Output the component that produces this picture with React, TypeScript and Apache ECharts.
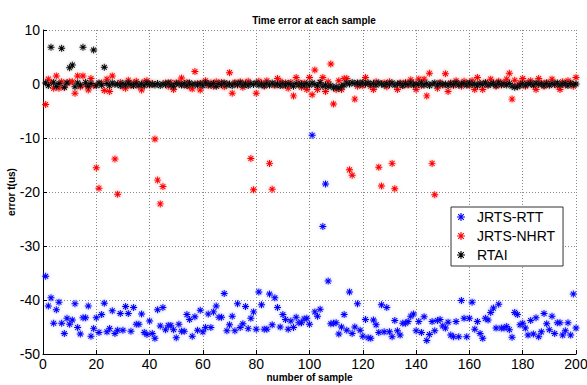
import React, { useEffect, useRef } from "react";
import * as echarts from "echarts";

const titleText = "Time error at each sample";
const xName = "number of sample";
const yName = "error t(us)";
const seriesNames = ["JRTS-RTT", "JRTS-NHRT", "RTAI"];
const seriesColors = ["#0000ff", "#ff0000", "#000000"];
const haloColors = ["rgba(60,60,255,0.55)", "rgba(255,60,60,0.55)", "rgba(80,80,80,0.45)"];

const rtt = [
  -35.6, -41.1, -39.6, -44.3, -41.8, -40.4, -44.3, -46.2, -43.4, -44.5,
  -43.7, -40.7, -45.1, -46.3, -43.3, -43.3, -41.1, -46.7, -45.3, -43.3,
  -46.0, -42.7, -40.6, -45.9, -45.3, -42.0, -46.2, -45.6, -42.5, -45.6,
  -41.2, -42.5, -45.8, -41.4, -44.5, -44.5, -42.6, -46.0, -46.4, -43.9,
  -46.2, -47.1, -41.8, -44.8, -41.4, -45.5, -44.7, -44.7, -45.5, -47.0,
  -44.5, -45.8, -45.8, -42.7, -43.6, -46.7, -43.1, -45.6, -41.9, -45.9,
  -45.1, -42.6, -45.1, -42.2, -41.1, -43.2, -43.2, -38.8, -45.7, -44.6,
  -43.0, -45.7, -40.7, -45.1, -44.4, -41.2, -45.3, -43.4, -42.2, -45.4,
  -38.5, -40.9, -45.4, -45.4, -38.9, -44.6, -39.6, -41.4, -45.0, -42.7,
  -43.6, -45.4, -43.9, -45.1, -43.2, -44.2, -44.2, -43.5, -43.4, -44.5,
  -9.5, -42.2, -43.0, -41.7, -26.4, -18.5, -36.5, -44.4, -44.3, -44.2,
  -46.3, -45.0, -42.7, -45.6, -38.5, -46.2, -45.0, -40.7, -45.6, -46.7,
  -43.6, -47.0, -47.1, -43.7, -44.6, -46.0, -40.9, -45.9, -41.4, -45.9,
  -46.8, -43.8, -45.7, -46.5, -44.3, -44.3, -44.0, -43.0, -42.6, -45.7,
  -44.0, -46.0, -43.1, -47.5, -46.4, -44.0, -45.7, -43.8, -43.6, -44.8,
  -45.2, -44.1, -46.5, -46.8, -44.0, -46.8, -40.1, -43.4, -46.8, -43.4,
  -40.4, -45.4, -44.0, -46.2, -47.1, -43.4, -43.7, -42.3, -41.5, -45.2,
  -40.8, -45.2, -45.2, -44.9, -45.5, -46.9, -42.3, -42.7, -44.6, -44.3,
  -45.2, -46.5, -43.8, -46.3, -43.3, -46.8, -45.9, -42.5, -44.4, -45.5,
  -43.0, -46.2, -44.2, -44.2, -46.5, -45.7, -44.2, -46.5, -38.9, -45.2,
];

const nhrt = [
  -3.8, 0.9, 0.3, -0.8, 1.5, -0.8, 0.4, -0.6, 0.2, 0.4,
  0.4, -1.7, 1.5, -0.5, 1.5, -0.2, -1.1, 1.0, -0.3, -15.5,
  -19.3, 0.2, -1.2, 0.9, -1.4, 1.5, -13.9, -20.4, 0.3, -0.5,
  -0.8, 0.7, -0.3, 0.2, 0.5, -0.4, -1.1, 0.4, 0.6, -0.2,
  0.1, -10.2, -17.8, -22.2, -19.0, 0.2, -0.4, 0.3, -1.0, 0.2,
  0.3, 1.1, -0.2, 0.3, -0.5, -0.9, 2.3, 0.1, -1.1, 0.2,
  0.6, -0.3, 0.2, -0.4, 0.4, -0.2, 0.3, -0.5, 0.1, 2.1,
  -1.7, 0.3, -0.2, 0.4, -0.6, 0.2, 0.5, -13.8, -19.6, -1.7,
  0.5, 0.2, -0.4, 0.6, -14.7, -19.5, -0.3, 1.0, 0.5, -0.3,
  0.2, -0.8, 0.3, -2.2, 1.2, 0.3, -0.6, 0.2, -1.0, 1.2,
  -2.0, 2.6, -1.0, 0.3, 1.2, -1.4, 0.4, 3.7, -3.7, -1.0,
  0.6, -1.0, 1.0, 1.0, -15.9, -16.9, -2.8, -0.4, 0.2, -0.3,
  1.2, 0.1, -0.4, -1.0, 0.4, -15.4, -18.9, 0.2, -0.5, 0.4,
  -14.7, -19.4, -1.0, 0.2, -0.3, 0.3, -0.2, 0.8, 0.1, -1.0,
  0.9, -0.3, 0.9, -2.2, 2.0, -14.7, -20.5, -0.8, 0.3, -0.2,
  1.9, -1.4, 0.2, -0.3, 0.6, 0.1, -0.4, 0.5, 0.2, -0.3,
  0.6, -1.0, 1.2, 0.1, -1.0, 0.3, -0.2, 0.9, 0.2, -0.4,
  0.5, -0.2, 0.3, 0.9, 2.0, -2.8, 0.7, -0.3, 0.2, 1.0,
  -0.4, 0.3, 0.6, -0.2, -1.0, 1.0, 0.2, -0.4, 0.3, -0.2,
  0.9, 0.1, -0.3, -1.0, 0.4, -0.2, 0.6, 0.2, -0.4, 1.2,
];

const rtai = [
  0.2, -0.3, 6.8, 0.3, -0.4, 0.1, 6.6, -0.6, 0.2, 3.0,
  3.5, -0.5, 0.2, -0.2, 6.8, 0.3, -0.4, 0.1, 6.3, -0.3,
  0.2, -0.2, 3.1, 0.1, -0.3, 0.2, -0.1, 0.0, -0.3, 0.1,
  -0.2, 0.2, -0.1, -0.3, 0.1, -0.2, 0.0, -0.3, 0.2, -0.1,
  0.0, -0.2, 0.1, -0.3, 0.0, -0.1, 0.2, -0.2, -0.4, 0.1,
  0.0, -0.2, 0.1, -0.3, 0.2, -0.1, 0.0, -0.2, 0.1, -0.3,
  0.2, 0.0, -0.2, 0.1, -0.4, 0.1, -0.1, 0.2, -0.2, 0.0,
  -0.3, 0.1, -0.1, 0.2, -0.2, 0.0, -0.3, 0.1, -0.1, 0.2,
  -0.2, 0.0, -0.3, 0.1, -0.2, 0.2, -0.1, 0.0, -0.3, 0.1,
  -0.2, 0.1, -0.1, -0.4, 0.1, -0.2, 0.0, -0.3, 0.1, -0.2,
  0.2, -0.1, -0.3, 0.3, -0.4, -0.2, -0.5, -0.3, -0.7, -0.5,
  -0.8, -0.4, -0.2, 0.2, 0.0, 0.3, 0.1, 0.2, -0.1, 0.3,
  0.0, 0.2, -0.1, 0.1, -0.2, 0.2, 0.0, -0.2, 0.1, -0.1,
  0.2, -0.2, 0.0, 0.1, -0.3, 0.1, -0.1, 0.2, -0.2, 0.0,
  -0.1, 0.2, -0.2, 0.1, -0.3, 0.0, 0.2, -0.2, 0.1, -0.1,
  0.0, -0.3, 0.1, -0.1, 0.2, -0.2, 0.0, 0.1, -0.2, 0.2,
  -0.1, 0.0, -0.3, 0.1, -0.1, 0.2, -0.2, 0.0, 0.1, -0.3,
  0.2, -0.1, 0.0, -0.2, 0.1, -0.4, -0.6, -0.5, -0.3, 0.1,
  -0.2, 0.0, 0.1, -0.2, 0.2, -0.1, 0.0, -0.3, 0.1, -0.2,
  0.1, -0.1, 0.2, -0.2, 0.0, 0.1, -0.3, 0.1, -0.1, 0.0,
];

const xTicks = { min: 0, max: 200, interval: 20 };
const yTicks = { min: -50, max: 10, interval: 10 };

const STAR =
  "path://M0 8.6H20V11.4H0Z M8.6 0H11.4V20H8.6Z M4 2L18 16L16 18L2 4Z M16 2L18 4L4 18L2 16Z";

const FONT = "'Liberation Sans', Arial, Helvetica, sans-serif";

export default function App() {
  const ref = useRef<HTMLDivElement>(null);
  useEffect(() => {
    if (!ref.current) return;
    const chart = echarts.init(ref.current, undefined, { renderer: "svg" });
    const allSeries = [rtt, nhrt, rtai].map((vals, k) => ({
      name: seriesNames[k],
      type: "scatter",
      symbol: STAR,
      symbolSize: 7,
      data: vals.map((v, i) => [i + 1, v]),
      itemStyle: {
        color: seriesColors[k],
        opacity: 1,
        shadowBlur: 3,
        shadowColor: haloColors[k],
      },
      emphasis: { disabled: true },
      z: 2 + k,
    }));
    chart.setOption({
      animation: false,
      backgroundColor: "#ffffff",
      textStyle: { fontFamily: FONT },
      title: {
        text: titleText,
        left: 309,
        textAlign: "center",
        top: 10,
        textStyle: { fontSize: 10, fontWeight: "bold", color: "#000", fontFamily: FONT },
      },
      grid: {
        left: 43,
        right: 11,
        top: 30,
        bottom: 31,
        containLabel: false,
        outerBoundsMode: "none",
      },
      legend: {
        orient: "vertical",
        left: 451,
        top: 207,
        padding: [3, 8, 4, 6],
        itemGap: 5,
        itemWidth: 22,
        itemHeight: 8,
        backgroundColor: "#ffffff",
        borderColor: "#333",
        borderWidth: 1,
        textStyle: { fontSize: 14, color: "#000", fontFamily: FONT },
        data: seriesNames,
      },
      xAxis: {
        type: "value",
        min: xTicks.min,
        max: xTicks.max,
        interval: xTicks.interval,
        name: xName,
        nameLocation: "middle",
        nameGap: 18,
        nameMoveOverlap: false,
        nameTextStyle: { fontSize: 10, fontWeight: "bold", color: "#000", fontFamily: FONT },
        axisLine: { show: true, onZero: false, lineStyle: { color: "#000", width: 1 } },
        axisTick: { show: true, inside: true, length: 4, lineStyle: { color: "#000" } },
        axisLabel: { fontSize: 14, color: "#000", margin: 3, fontFamily: FONT },
        splitLine: { show: true, lineStyle: { color: "#888", type: [1, 2], width: 1 } },
      },
      yAxis: {
        type: "value",
        min: yTicks.min,
        max: yTicks.max,
        interval: yTicks.interval,
        name: yName,
        nameLocation: "middle",
        nameGap: 27,
        nameMoveOverlap: false,
        nameTextStyle: { fontSize: 10, fontWeight: "bold", color: "#000", fontFamily: FONT },
        axisLine: { show: true, onZero: false, lineStyle: { color: "#000", width: 1 } },
        axisTick: { show: true, inside: true, length: 4, lineStyle: { color: "#000" } },
        axisLabel: { fontSize: 14, color: "#000", margin: 3, fontFamily: FONT },
        splitLine: { show: true, lineStyle: { color: "#888", type: [1, 2], width: 1 } },
      },
      series: allSeries,
    });
    return () => chart.dispose();
  }, []);
  return (
    <div
      ref={ref}
      style={{ position: "fixed", left: 0, top: 0, width: 587, height: 385, background: "#fff" }}
    />
  );
}
